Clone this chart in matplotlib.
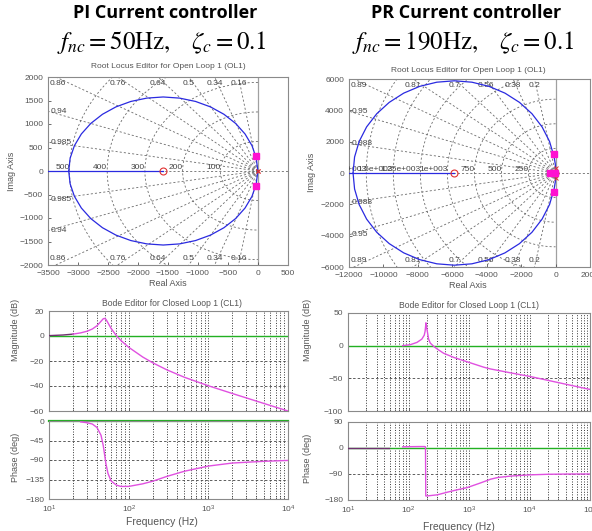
import numpy as np
import matplotlib.pyplot as plt

plt.rcParams['font.family'] = ['Liberation Sans', 'DejaVu Sans']
plt.rcParams['mathtext.fontset'] = 'stix'

W, H = 592, 531

# ---------------- root locus, PI controller ----------------
pi_xlim = (-3500, 500)
pi_ylim = (-2000, 2000)
pi_xticks = [-3500, -3000, -2500, -2000, -1500, -1000, -500, 0, 500]
pi_yticks = [-2000, -1500, -1000, -500, 0, 500, 1000, 1500, 2000]
pi_locus_x = [-3155, -3131, -3060, -2944, -2787, -2592, -2368, -2119, -1853, -1580,
              -1307, -1041, -792, -568, -373, -216, -100, -29, -3]
pi_locus_y = [0, 273, 539, 788, 1012, 1207, 1364, 1480, 1551, 1575,
              1551, 1480, 1364, 1207, 1012, 788, 539, 273, 0]
pi_zero_x = [-1580]
pi_olp_x = [0, -6]
pi_olp_y = [0, 0]
pi_clp_x = [-31, -31]
pi_clp_y = [314, -314]
pi_zetas = [0.985, 0.94, 0.86, 0.76, 0.64, 0.5, 0.34, 0.16]
pi_freqs = [100, 200, 300, 400, 500]
pi_flabels = ['100', '200', '300', '400', '500']

# ---------------- root locus, PR controller ----------------
pr_xlim = (-12000, 2000)
pr_ylim = (-6000, 6000)
pr_xticks = [-12000, -10000, -8000, -6000, -4000, -2000, 0, 2000]
pr_yticks = [-6000, -4000, -2000, 0, 2000, 4000, 6000]
pr_locus_x = [-11765, -11676, -11410, -10977, -10388, -9663, -8823, -7893, -6902, -5880,
              -4858, -3867, -2938, -2097, -1372, -784, -350, -84, -20, 0]
pr_locus_y = [0, 1022, 2013, 2943, 3783, 4508, 5097, 5530, 5796, 5885,
              5796, 5530, 5097, 4508, 3783, 2943, 2013, 1022, 600, 314]
pr_zero_x = [-5880, -17]
pr_olp_x = [0, 0, -6]
pr_olp_y = [314, -314, 0]
pr_clp_x = [-119, -119, -350, -20]
pr_clp_y = [1188, -1188, 0, 0]
pr_zetas = [0.988, 0.95, 0.89, 0.81, 0.7, 0.56, 0.38, 0.2]
pr_freqs = [250, 500, 750, 1000, 1250, 1500, 1750]
pr_flabels = ['250', '500', '750', '1e+003', '1.25e+003', '1.5e+003', '1.75e+003']

# ---------------- closed loop bode, PI ----------------
pi_mag_f = [10, 15, 20, 25, 30, 35, 40, 45, 48, 50, 52, 55, 60, 70, 80, 100,
            150, 200, 300, 500, 1000, 2000, 5000, 10000]
pi_mag_db = [0.3, 0.8, 1.5, 2.5, 3.8, 5.6, 8.2, 11.8, 13.8, 14.1, 13.2, 10.5, 6.2, 0.3, -3.6, -9.0,
             -16.8, -21.4, -27.0, -33.0, -39.8, -46.0, -54.0, -60.0]
pi_ph_f = [10, 20, 25, 30, 35, 40, 45, 48, 50, 52, 55, 60, 70, 80, 100,
           150, 200, 300, 500, 1000, 2000, 5000, 10000]
pi_ph_deg = [0, -1, -2, -4, -7, -15, -33, -57, -79, -100, -121, -138, -148, -151, -151,
             -145, -139, -128, -116, -104, -97, -93, -91]

# ---------------- closed loop bode, PR ----------------
pr_mag_f = [80, 107, 138, 166, 182, 188, 191, 194, 197, 202, 215, 229, 261, 297, 382,
            561, 820, 1200, 1760, 2280, 3500, 5000, 10000, 20000, 50000, 100000]
pr_mag_db = [0, 1.5, 5, 10, 16, 22, 28, 35, 30, 25, 10, 4, -1, -5, -11.7,
             -18, -23, -28, -33, -35.7, -39, -41.8, -47, -53, -61, -67]
pr_ph_f = [80, 100, 150, 185, 191, 193, 202, 300, 438, 600, 933, 1500, 2280, 3000,
           5000, 10000, 20000, 50000, 100000]
pr_ph_deg = [4, 4.5, 5, 5, 4, -166, -166, -162, -153, -146, -137, -122, -108, -102,
             -97, -93, -91, -90, -90]
pr_ph_low_f = [10, 48]
pr_ph_low_deg = [0, 0]

BLUE = '#2a2ae0'
MAG = '#e050e0'
GREEN = '#22b022'
TXT = '#555555'
GRID = '#6a6a6a'


def pos(x0, x1, y0, y1):
    return [x0 / W, 1 - y1 / H, (x1 - x0) / W, (y1 - y0) / H]


def style(ax):
    for s in ax.spines.values():
        s.set_color('#8a8a8a')
        s.set_linewidth(0.8)
    ax.tick_params(which='both', direction='in', labelsize=6, colors=TXT,
                   length=2.5, width=0.6)
    ax.tick_params(which='minor', length=1.5)


def sgrid(ax, zetas, freqs, flabels, xlim, ylim):
    gs = dict(color=GRID, lw=0.6, ls=(0, (2.5, 2.5)), zorder=1)
    xr = xlim[1] - xlim[0]
    yr = ylim[1] - ylim[0]
    big = 1e6
    for z in zetas:
        th = np.arccos(z)
        lab = '%g' % z
        for sg in (1, -1):
            ax.plot([0, -big * np.cos(th)], [0, sg * big * np.sin(th)], **gs)
        t_top = ylim[1] / np.sin(th)
        t_left = -xlim[0] / np.cos(th)
        if t_top < t_left:
            x = max(-t_top * np.cos(th), xlim[0] + 0.04 * xr)
            ax.text(x, ylim[1] - 0.015 * yr, lab, ha='center', va='top', fontsize=6, color='#444')
            ax.text(x, ylim[0] + 0.015 * yr, lab, ha='center', va='bottom', fontsize=6, color='#444')
        else:
            y = t_left * np.sin(th)
            ax.text(xlim[0] + 0.012 * xr, y, lab, ha='left', va='center', fontsize=6, color='#444')
            ax.text(xlim[0] + 0.012 * xr, -y, lab, ha='left', va='center', fontsize=6, color='#444')
    phi = np.linspace(np.pi / 2, 3 * np.pi / 2, 181)
    for f, lab in zip(freqs, flabels):
        wn = 2 * np.pi * f
        ax.plot(wn * np.cos(phi), wn * np.sin(phi), **gs)
        ax.text(-wn, 0, lab, ha='right', va='bottom', fontsize=6, color='#444', clip_on=True)
    ax.axhline(0, **gs)
    ax.axvline(0, color='#a0a0a0', lw=0.9, zorder=1)


def root_locus(ax, lx, ly, zx, ox, oy, cx, cy, xlim, ylim, xt, yt, zetas, freqs, flabels):
    sgrid(ax, zetas, freqs, flabels, xlim, ylim)
    lx = np.array(lx)
    ly = np.array(ly)
    ax.plot(lx, ly, color=BLUE, lw=0.9, zorder=3)
    ax.plot(lx, -ly, color=BLUE, lw=0.9, zorder=3)
    ax.plot([xlim[0], zx[0]], [0, 0], color=BLUE, lw=0.9, zorder=3)
    ax.plot(zx, np.zeros(len(zx)), 'o', mfc='none', mec='#e03030', ms=5, mew=0.8, zorder=4)
    ax.plot(ox, oy, 'x', color='#e03030', ms=3, mew=0.7, zorder=4)
    ax.plot(cx, cy, 's', color='#ff10d0', ms=4.5, zorder=5)
    ax.set_xlim(xlim)
    ax.set_ylim(ylim)
    ax.set_xticks(xt)
    ax.set_yticks(yt)
    style(ax)


def bode_axes(ax, xmax, ylim, yt):
    ax.set_xscale('log')
    ax.set_xlim(10, xmax)
    ax.set_ylim(ylim)
    ax.set_yticks(yt)
    ax.grid(True, which='both', axis='x', ls=':', color='#333', lw=0.7)
    ax.grid(True, which='major', axis='y', ls=(0, (3, 2.5)), color='#444', lw=0.6)
    style(ax)


fig = plt.figure(figsize=(W / 100, H / 100), dpi=100)

# headers
for cx0, name, formula in [(165, 'PI Current controller', r'$f_{nc}=50\mathrm{Hz},\quad \zeta_c=0.1$'),
                           (466, 'PR Current controller', r'$f_{nc}=190\mathrm{Hz},\quad \zeta_c=0.1$')]:
    fig.text(cx0 / W, 1 - 13 / H, name, ha='center', va='center', fontsize=13,
             fontweight='bold', family=['Open Sans', 'DejaVu Sans'])
    fig.text((cx0 - 3) / W, 1 - 42 / H, formula, ha='center', va='center', fontsize=18)

# root locus panels
ax1 = fig.add_axes(pos(48, 288, 77, 265))
root_locus(ax1, pi_locus_x, pi_locus_y, pi_zero_x, pi_olp_x, pi_olp_y, pi_clp_x, pi_clp_y,
           pi_xlim, pi_ylim, pi_xticks, pi_yticks, pi_zetas, pi_freqs, pi_flabels)
ax2 = fig.add_axes(pos(349, 590, 79, 267))
root_locus(ax2, pr_locus_x, pr_locus_y, pr_zero_x, pr_olp_x, pr_olp_y, pr_clp_x, pr_clp_y,
           pr_xlim, pr_ylim, pr_xticks, pr_yticks, pr_zetas, pr_freqs, pr_flabels)

for cx0, ty, ly in [(168, 67, 283), (468, 70, 285)]:
    fig.text(cx0 / W, 1 - ty / H, 'Root Locus Editor for Open Loop 1 (OL1)', ha='center',
             va='center', fontsize=6, color=TXT)
    fig.text(cx0 / W, 1 - ly / H, 'Real Axis', ha='center', va='center', fontsize=6.5, color=TXT)
fig.text(12 / W, 1 - 171 / H, 'Imag Axis', rotation=90, ha='center', va='center', fontsize=6.5, color=TXT)
fig.text(311 / W, 1 - 172 / H, 'Imag Axis', rotation=90, ha='center', va='center', fontsize=6.5, color=TXT)

# bode PI
ax3 = fig.add_axes(pos(49, 288, 311, 411))
bode_axes(ax3, 1e4, (-60, 20), [-60, -40, -20, 0, 20])
ax3.axhline(0, color=GREEN, lw=1.0, zorder=2)
ax3.plot(pi_mag_f[:3], pi_mag_db[:3], color='#703070', lw=1.0, zorder=3)
ax3.plot(pi_mag_f[2:], pi_mag_db[2:], color=MAG, lw=1.0, zorder=3)
ax3.tick_params(labelbottom=False)

ax4 = fig.add_axes(pos(49, 288, 421, 499))
bode_axes(ax4, 1e4, (-180, 0), [-180, -135, -90, -45, 0])
ax4.axhline(0, color=GREEN, lw=1.6, zorder=2, clip_on=False)
ax4.plot(pi_ph_f[2:], pi_ph_deg[2:], color=MAG, lw=1.0, zorder=3)

# bode PR
ax5 = fig.add_axes(pos(348, 590, 313, 411))
bode_axes(ax5, 1e5, (-100, 50), [-100, -50, 0, 50])
ax5.axhline(0, color=GREEN, lw=1.0, zorder=2)
ax5.plot(pr_mag_f, pr_mag_db, color=MAG, lw=1.0, zorder=3)
ax5.tick_params(labelbottom=False)

ax6 = fig.add_axes(pos(348, 590, 422, 500))
bode_axes(ax6, 1e5, (-180, 90), [-180, -90, 0, 90])
ax6.axhline(0, color=GREEN, lw=1.0, zorder=2)
ax6.plot(pr_ph_low_f, pr_ph_low_deg, color='#703070', lw=1.0, zorder=3)
ax6.plot(pr_ph_f, pr_ph_deg, color=MAG, lw=1.0, zorder=3)

for cx0, ty, fy in [(172, 303, 522), (469, 305, 527)]:
    fig.text(cx0 / W, 1 - ty / H, 'Bode Editor for Closed Loop 1 (CL1)', ha='center',
             va='center', fontsize=6.2, color=TXT)
    fig.text((cx0 - 10) / W, 1 - fy / H, 'Frequency (Hz)', ha='center', va='center',
             fontsize=7.5, color=TXT)
for lx, my, py in [(16, 330, 457), (308, 330, 458)]:
    fig.text(lx / W, 1 - my / H, 'Magnitude (dB)', rotation=90, ha='center', va='center',
             fontsize=6.5, color=TXT)
    fig.text(lx / W, 1 - py / H, 'Phase (deg)', rotation=90, ha='center', va='center',
             fontsize=6.5, color=TXT)

fig.savefig('out.png', dpi=100)
